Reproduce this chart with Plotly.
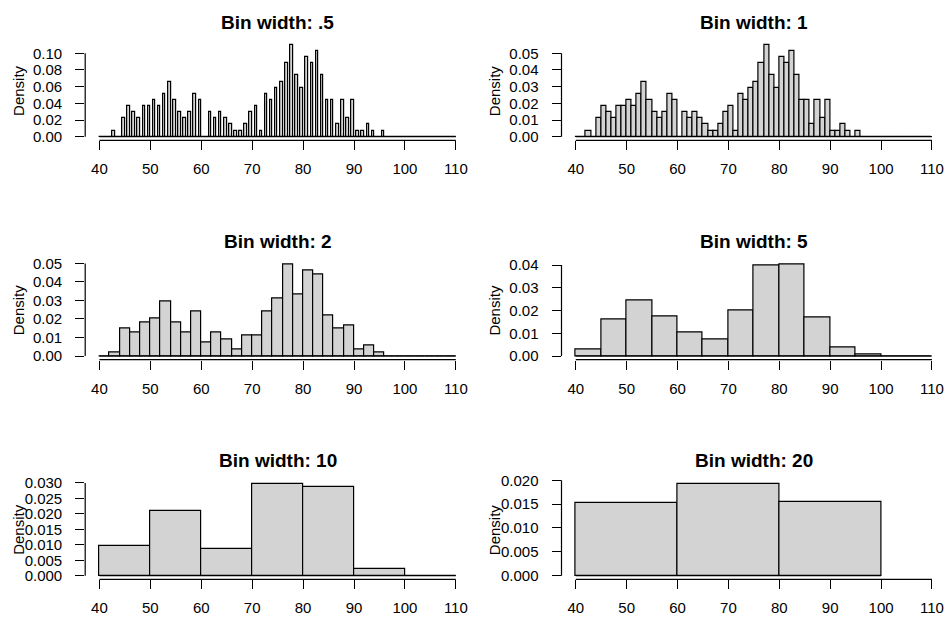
import numpy as np
import plotly.graph_objects as go

# Old Faithful waiting times: number of eruptions per waiting value (minutes),
# read from the bin-width .5 / 1 panels
waiting_values = [43, 44, 45, 46, 47, 48, 49, 50, 51, 52, 53, 54, 55, 56, 57, 58, 59, 60,
                  61, 62, 63, 64, 65, 66, 67, 68, 69, 70, 71, 72, 73, 74, 75, 76, 77, 78,
                  79, 80, 81, 82, 83, 84, 85, 86, 87, 88, 89, 90, 91, 92, 93, 94, 95, 96]
waiting_counts = [1, 0, 3, 5, 4, 3, 5, 5, 6, 5, 7, 9, 6, 4, 3, 4, 7, 6,
                  0, 4, 3, 4, 3, 2, 1, 1, 2, 4, 5, 1, 7, 6, 8, 9, 12, 15,
                  10, 8, 13, 12, 14, 10, 6, 6, 2, 6, 3, 6, 1, 1, 2, 1, 0, 1]

bin_widths = [0.5, 1, 2, 5, 10, 20]
titles = ["Bin width: .5", "Bin width: 1", "Bin width: 2",
          "Bin width: 5", "Bin width: 10", "Bin width: 20"]
break_start, break_end = 40, 110

x_ticks = [40, 50, 60, 70, 80, 90, 100, 110]
y_ticks = [
    [0.00, 0.02, 0.04, 0.06, 0.08, 0.10],
    [0.00, 0.01, 0.02, 0.03, 0.04, 0.05],
    [0.00, 0.01, 0.02, 0.03, 0.04, 0.05],
    [0.00, 0.01, 0.02, 0.03, 0.04],
    [0.000, 0.005, 0.010, 0.015, 0.020, 0.025, 0.030],
    [0.000, 0.005, 0.010, 0.015, 0.020],
]
y_fmt = ["%.2f", "%.2f", "%.2f", "%.2f", "%.3f", "%.3f"]

W, H = 947, 618
col_px = [(85.2, 470.1), (561.5, 946.2)]
row_px = [(41.0, 140.4), (260.4, 359.7), (479.9, 579.4)]

FONT = "Liberation Sans, Arial, Helvetica, sans-serif"
vals = np.array(waiting_values, dtype=float)
cnts = np.array(waiting_counts, dtype=float)
N = cnts.sum()

fig = go.Figure()
layout = dict(width=W, height=H, margin=dict(l=0, r=0, t=0, b=0, autoexpand=False),
              autosize=False,
              paper_bgcolor="white", plot_bgcolor="white", showlegend=False,
              font=dict(family=FONT, size=15, color="black"),
              bargap=0)
annotations, shapes = [], []

for i, bw in enumerate(bin_widths):
    r, c = divmod(i, 2)
    k = i + 1
    xa = "x" if k == 1 else f"x{k}"
    ya = "y" if k == 1 else f"y{k}"
    xname = "xaxis" if k == 1 else f"xaxis{k}"
    yname = "yaxis" if k == 1 else f"yaxis{k}"

    # R-style right-closed bins (a, b]
    breaks = np.arange(break_start, break_end + bw / 2, bw)
    lefts, rights = breaks[:-1], breaks[1:]
    bin_counts = np.array([cnts[(vals > a) & (vals <= b)].sum() for a, b in zip(lefts, rights)])
    dens = bin_counts / (N * bw)
    centers = (lefts + rights) / 2

    fig.add_trace(go.Bar(x=centers, y=dens, width=bw, xaxis=xa, yaxis=ya,
                         marker=dict(color="#D3D3D3", line=dict(color="black", width=1.2)),
                         hoverinfo="x+y"))
    # zero-height bins drawn as a flat line, as R does
    fig.add_trace(go.Scatter(x=[breaks[0], breaks[-1]], y=[0, 0], xaxis=xa, yaxis=ya,
                             mode="lines", line=dict(color="black", width=1.2),
                             hoverinfo="skip"))

    x0p, x1p = col_px[c]
    y0p, y1p = row_px[r]
    ymax = dens.max()
    xr = [break_start - 0.04 * (break_end - break_start), break_end + 0.04 * (break_end - break_start)]
    yr = [-0.04 * ymax, 1.04 * ymax]

    layout[xname] = dict(domain=[x0p / W, x1p / W], range=xr, anchor=ya, automargin=False,
                         tickvals=x_ticks, ticktext=[str(t) for t in x_ticks],
                         ticks="outside", ticklen=9, tickwidth=1.2, tickcolor="black",
                         showline=False, showgrid=False, zeroline=False,
                         ticklabelstandoff=6, tickfont=dict(size=15))
    layout[yname] = dict(domain=[1 - y1p / H, 1 - y0p / H], range=yr, anchor=xa, automargin=False,
                         tickvals=y_ticks[i], ticktext=[y_fmt[i] % t for t in y_ticks[i]],
                         ticks="outside", ticklen=9, tickwidth=1.2, tickcolor="black",
                         showline=False, showgrid=False, zeroline=False,
                         ticklabelstandoff=10, tickfont=dict(size=15))

    # R-style axis lines spanning first to last tick
    shapes.append(dict(type="line", xref=xa, yref=f"{ya} domain",
                       x0=x_ticks[0], x1=x_ticks[-1], y0=0, y1=0,
                       line=dict(color="black", width=1.2)))
    shapes.append(dict(type="line", xref=f"{xa} domain", yref=ya,
                       x0=0, x1=0, y0=y_ticks[i][0], y1=y_ticks[i][-1],
                       line=dict(color="black", width=1.2)))

    annotations.append(dict(text="<b>" + titles[i] + "</b>", xref=f"{xa} domain", yref=f"{ya} domain",
                            x=0.5, y=1, yshift=19, xanchor="center", yanchor="middle",
                            showarrow=False, font=dict(size=19, family=FONT)))
    annotations.append(dict(text="Density", xref=f"{xa} domain", yref=f"{ya} domain",
                            x=0, y=0.5, xshift=-67, xanchor="center", yanchor="middle",
                            textangle=-90, showarrow=False, font=dict(size=15, family=FONT)))

layout["annotations"] = annotations
layout["shapes"] = shapes
fig.update_layout(**layout)
fig.write_html("out.html", config={"displayModeBar": False},
               post_script="document.body.style.margin='0px';document.body.style.overflow='hidden';")
